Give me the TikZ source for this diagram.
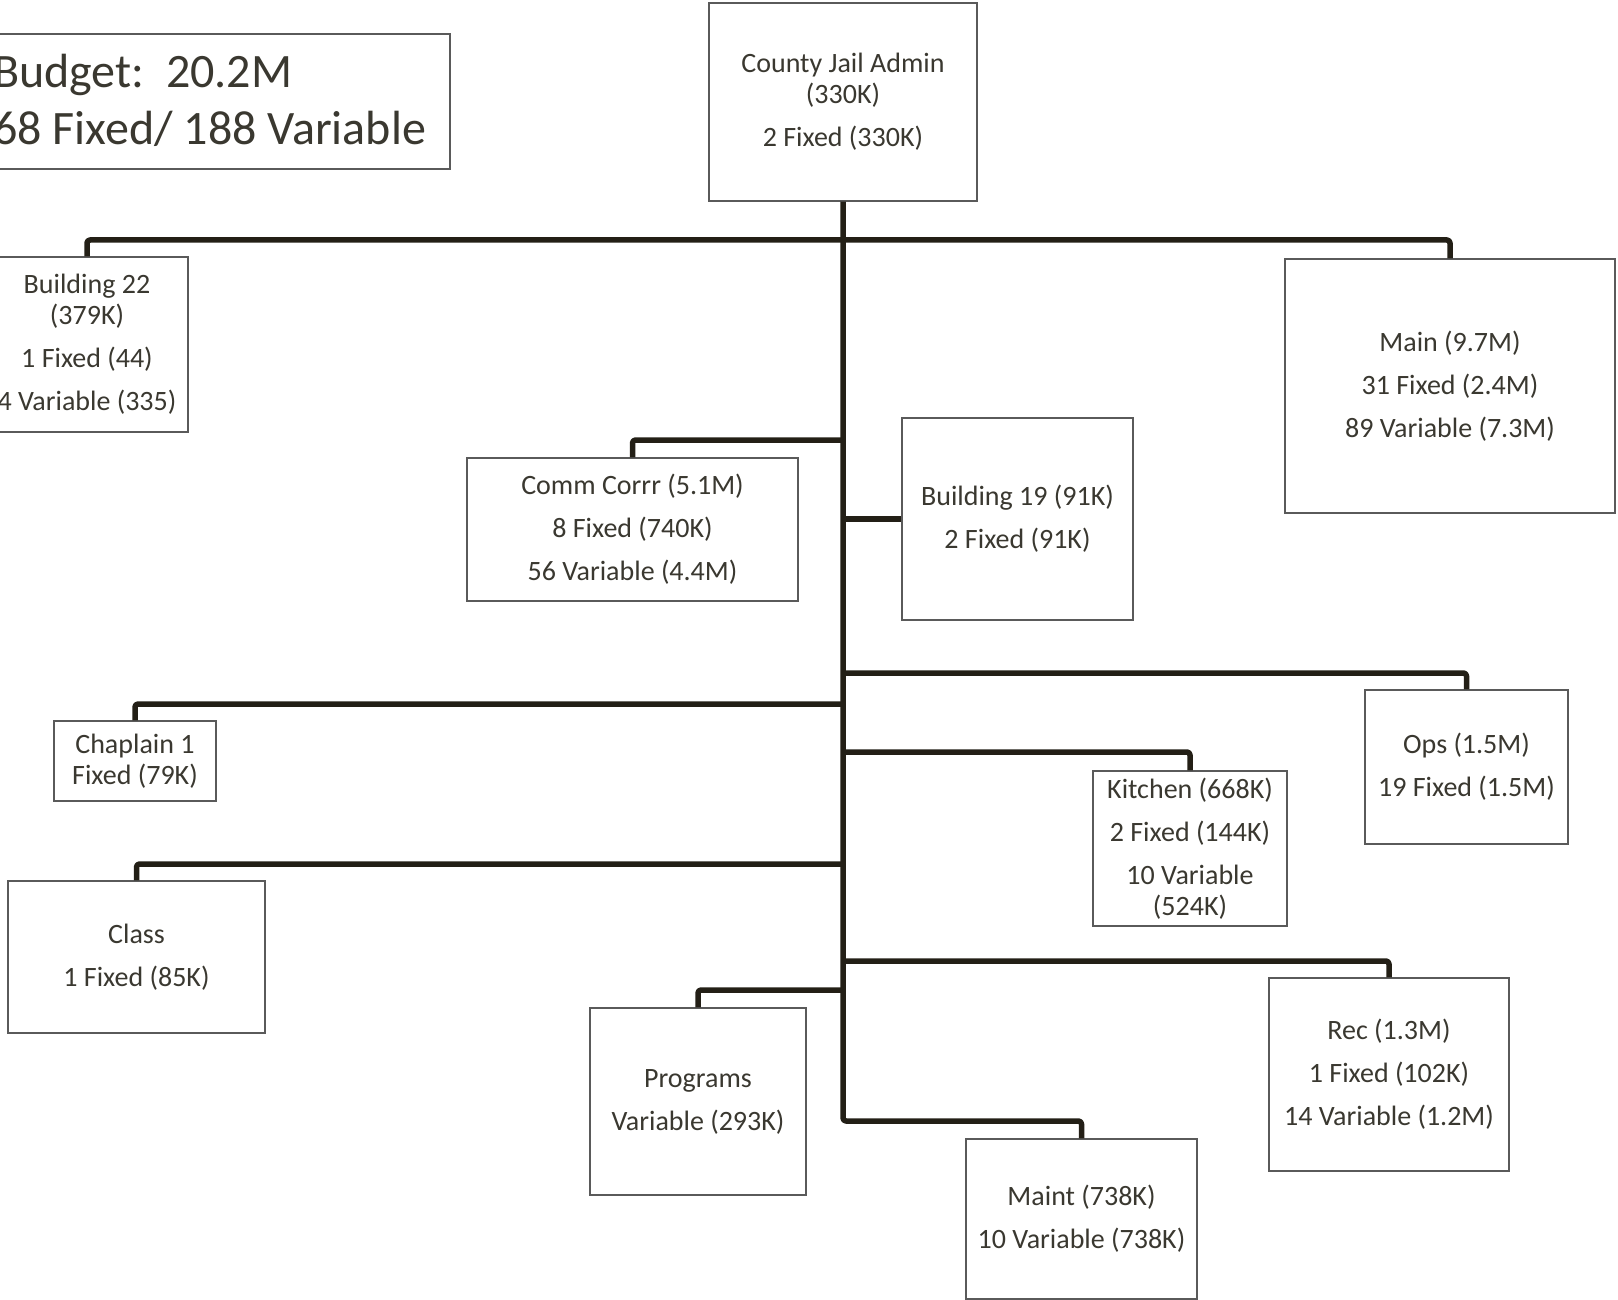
\documentclass[tikz,border=0pt]{standalone}
\usepackage{fontspec}
\setmainfont{Carlito}
\usetikzlibrary{calc}
\definecolor{txt}{HTML}{3A3830}
\definecolor{conncol}{HTML}{231F16}
\definecolor{boxcol}{HTML}{5A5A5A}
\pgfdeclareradialshading{vign}{\pgfpoint{0bp}{0bp}}{color(0bp)=(white); color(50bp)=(white); color(71bp)=(black!16)}
\tikzset{
  orgbox/.style={draw=boxcol, line width=1.2pt, fill=white, inner sep=0pt, align=center,
    text=txt, font=\fontsize{28}{31}\selectfont},
  conn/.style={draw=conncol, line width=5.5pt, rounded corners=3pt, line join=round},
  bigtxt/.style={text=txt, font=\fontsize{48}{57}\selectfont, inner sep=0pt, anchor=base west}
}
\begin{document}
\begin{tikzpicture}[x=1pt,y=-1pt]
\useasboundingbox (0,0) rectangle (1618,1300);
\shade[shading=vign] (0,0) rectangle (1618,1300);

% budget box
\node[orgbox, minimum width=470pt, minimum height=135pt] (budget) at (215,101.5) {};
\node[bigtxt] (bl1) at (-7,88) {Budget:\ \ 20.2M};
\node[bigtxt] (bl2) at (-7,145) {68 Fixed/ 188 Variable};

% boxes
\node[orgbox, minimum width=268pt, minimum height=198pt] (admin) at (843,102)
  {County Jail Admin\\(330K)\\[12pt]2 Fixed (330K)};
\node[orgbox, minimum width=202pt, minimum height=175pt] (b22) at (87,344.5)
  {Building 22\\(379K)\\[12pt]1 Fixed (44)\\[12pt]4 Variable (335)};
\node[orgbox, minimum width=330pt, minimum height=254pt] (main) at (1450,386)
  {Main (9.7M)\\[12pt]31 Fixed (2.4M)\\[12pt]89 Variable (7.3M)};
\node[orgbox, minimum width=331pt, minimum height=143pt] (comm) at (632.5,529.5)
  {Comm Corrr (5.1M)\\[12pt]8 Fixed (740K)\\[12pt]56 Variable (4.4M)};
\node[orgbox, minimum width=231pt, minimum height=202pt] (b19) at (1017.5,519)
  {Building 19 (91K)\\[12pt]2 Fixed (91K)};
\node[orgbox, minimum width=162pt, minimum height=80pt] (chap) at (135,761)
  {Chaplain 1\\Fixed (79K)};
\node[orgbox, minimum width=203pt, minimum height=154pt] (ops) at (1466.5,767)
  {Ops (1.5M)\\[12pt]19 Fixed (1.5M)};
\node[orgbox, minimum width=194pt, minimum height=155pt] (kitchen) at (1190,848.5)
  {Kitchen (668K)\\[12pt]2 Fixed (144K)\\[12pt]10 Variable\\(524K)};
\node[orgbox, minimum width=257pt, minimum height=152pt] (class) at (136.5,957)
  {Class\\[12pt]1 Fixed (85K)};
\node[orgbox, minimum width=240pt, minimum height=193pt] (rec) at (1389,1074.5)
  {Rec (1.3M)\\[12pt]1 Fixed (102K)\\[12pt]14 Variable (1.2M)};
\node[orgbox, minimum width=216pt, minimum height=187pt] (prog) at (698,1101.5)
  {Programs\\[12pt]Variable (293K)};
\node[orgbox, minimum width=231pt, minimum height=160pt] (maint) at (1081.5,1219)
  {Maint (738K)\\[12pt]10 Variable (738K)};

% junctions on the trunk
\coordinate (jtop) at (843,240);
\coordinate (jcomm) at (843,440);
\coordinate (jb19) at (843,519);
\coordinate (jops) at (843,673);
\coordinate (jchap) at (843,704);
\coordinate (jkit) at (843,752);
\coordinate (jclass) at (843,864);
\coordinate (jrec) at (843,961);
\coordinate (jprog) at (843,990);
\coordinate (jmaint) at (843,1121);

% connectors
\draw[conn] (admin.south) -- (jmaint) -| (maint.north);
\draw[conn] (jtop) -| (b22.north);
\draw[conn] (jtop) -| (main.north);
\draw[conn] (jcomm) -| (comm.north);
\draw[conn] (jb19) -- (b19.west);
\draw[conn] (jops) -| (ops.north);
\draw[conn] (jchap) -| (chap.north);
\draw[conn] (jkit) -| (kitchen.north);
\draw[conn] (jclass) -| (class.north);
\draw[conn] (jrec) -| (rec.north);
\draw[conn] (jprog) -| (prog.north);
\end{tikzpicture}
\end{document}
